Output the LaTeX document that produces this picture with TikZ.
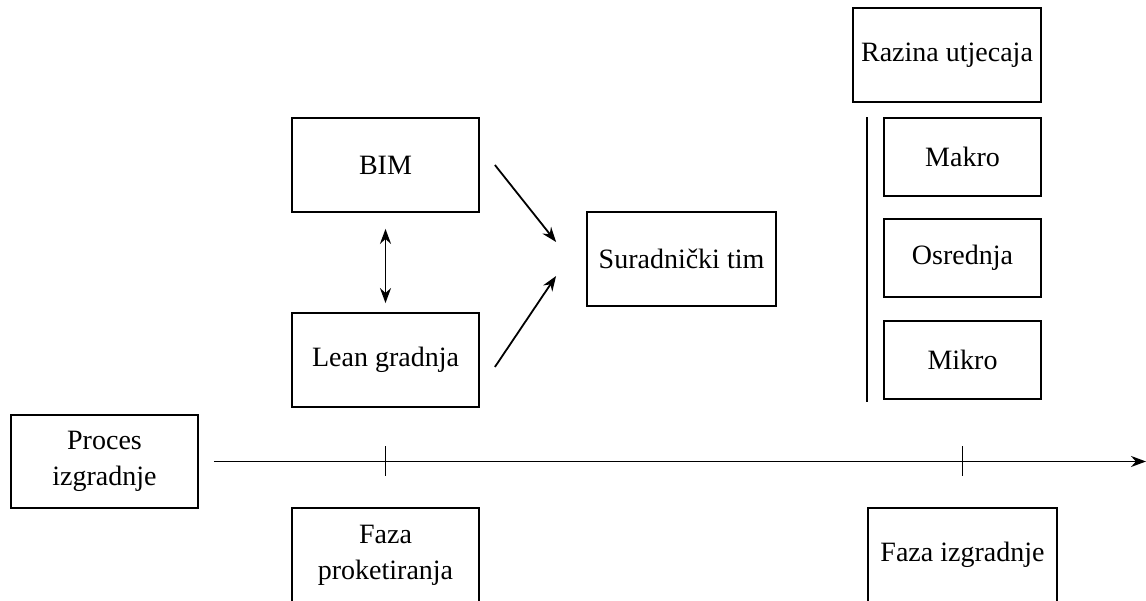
\documentclass[tikz,border=0pt]{standalone}
\usepackage{fontspec}
\setmainfont{Liberation Serif}
\usetikzlibrary{calc}
\usetikzlibrary{arrows.meta}
\tikzset{
    mybox/.style={
        draw,                 % 边框
        rectangle,
        line width=1.8pt,
        inner sep=0,
        align=center,
        minimum width=187pt,  % 框宽
        minimum height=94pt   % 框高
    },
    smallbox/.style={
        mybox,
        minimum width=157pt,
        minimum height=78pt
    },
    myline/.style={
        line width=1.8pt
    },
    myarrow/.style={
        myline,
        -{Stealth[length=15pt, width=11pt]}
    },
    mydarrow/.style={
        myline,
        {Stealth[length=15pt, width=11pt]}-{Stealth[length=15pt, width=11pt]}
    }
}

\begin{document}
\begin{tikzpicture}[x=1pt, y=1pt, font=\fontsize{28}{36}\selectfont]

\useasboundingbox (0,0) rectangle (1146,601);

\def\gap{15}
\def\tick{15}
% 定义点
\coordinate (P1) at (104.5, 139.5);
\coordinate (P2) at (385.5, 436);
\coordinate (P3) at (385.5, 241);
\coordinate (P4) at (681.5, 342);
\coordinate (P5) at (947, 546);
\coordinate (P6) at (962.5, 444);
\coordinate (P7) at (962.5, 343);
\coordinate (P8) at (962.5, 241);
\coordinate (P9) at (385.5, 46);
\coordinate (P10) at (962.5, 46);
\coordinate (P11) at (1146, 139.5);

% 方框
\node[mybox, minimum height=93pt] (proc) at (P1) {Proces\\izgradnje};
\node[mybox] (bim) at (P2) {BIM};
\node[mybox] (lean) at (P3) {Lean gradnja};
\node[mybox, minimum width=189pt] (sur) at (P4) {Suradnički tim};
\node[mybox, minimum width=188pt] (raz) at (P5) {Razina utjecaja};
\node[smallbox] (makro) at (P6) {Makro};
\node[smallbox] (osr) at (P7) {Osrednja};
\node[smallbox] (mikro) at (P8) {Mikro};
\node[mybox] (fazap) at (P9) {Faza\\proketiranja};
\node[mybox, minimum width=189pt] (fazai) at (P10) {Faza izgradnje};

% 箭头
\draw[mydarrow, shorten <=16pt, shorten >=9pt] (bim.south) -- (lean.north);
\draw[myarrow] ($(bim.east)+(\gap,0)$) -- ($(sur.west)+(-30,17)$);
\draw[myarrow] ($(lean.east)+(\gap,-7)$) -- ($(sur.west)+(-30,-17)$);

% 时间轴
\draw[myarrow, shorten <=\gap pt] (proc.east) -- (P11);
\draw[myline] ($(fazap.north |- P11)+(0,\tick)$) -- ($(fazap.north |- P11)+(0,-\tick)$);
\draw[myline] ($(fazai.north |- P11)+(0,\tick)$) -- ($(fazai.north |- P11)+(0,-\tick)$);

% 竖线
\draw[myline] ($(makro.north west)+(-16,0)$) -- ($(mikro.south west)+(-16,-2)$);

\end{tikzpicture}
\end{document}
